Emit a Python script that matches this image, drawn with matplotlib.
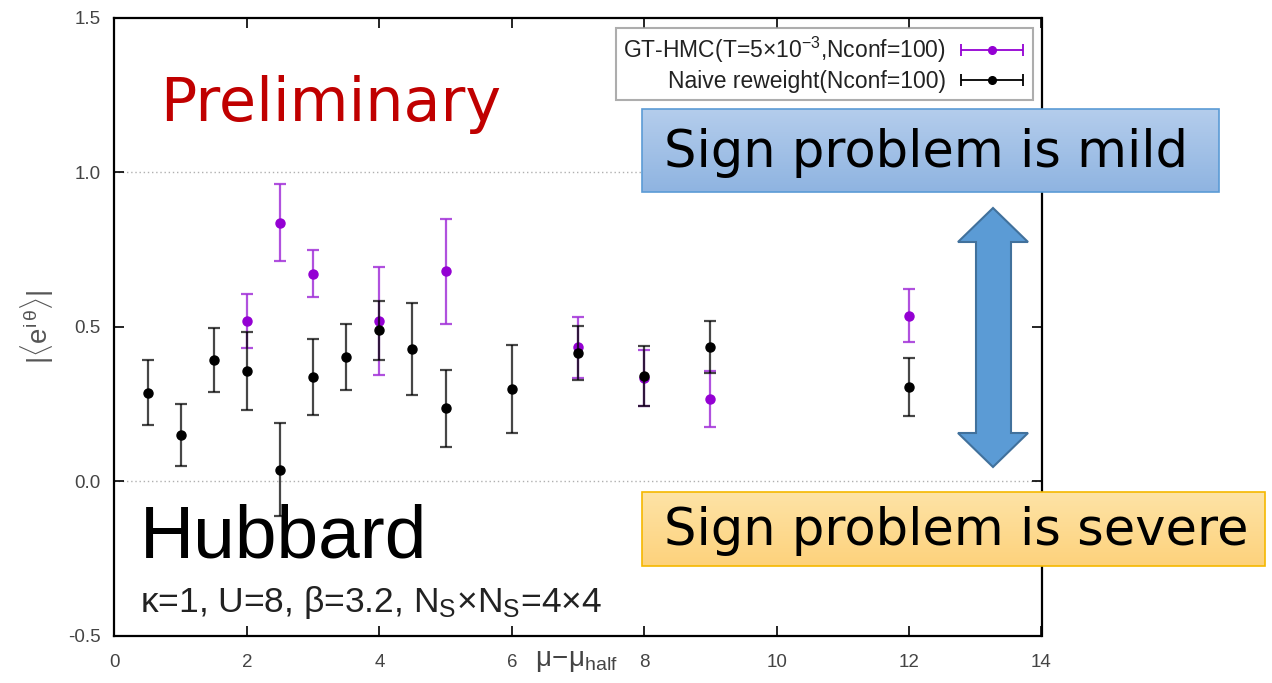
import numpy as np
import matplotlib
matplotlib.use("Agg")
import matplotlib.pyplot as plt
from matplotlib.patches import Rectangle, Polygon
from matplotlib.legend_handler import HandlerErrorbar

plt.rcParams['font.family'] = ['Liberation Sans', 'DejaVu Sans']
plt.rcParams['mathtext.fontset'] = 'custom'
plt.rcParams['mathtext.rm'] = 'Liberation Sans'
plt.rcParams['mathtext.it'] = 'Liberation Sans:italic'

# GT-HMC (T=5e-3, Nconf=100)
gt_mu = [2.0, 2.5, 3.0, 4.0, 5.0, 7.0, 8.0, 9.0, 12.0]
gt_val = [0.519, 0.837, 0.672, 0.519, 0.679, 0.433, 0.335, 0.267, 0.536]
gt_err = [0.087, 0.126, 0.075, 0.175, 0.170, 0.100, 0.090, 0.091, 0.085]

# naive reweighting (Nconf=100)
nv_mu = [0.5, 1.0, 1.5, 2.0, 2.5, 3.0, 3.5, 4.0, 4.5, 5.0, 6.0, 7.0, 8.0, 9.0, 12.0]
nv_val = [0.286, 0.150, 0.393, 0.357, 0.038, 0.338, 0.402, 0.488, 0.428, 0.236,
          0.298, 0.416, 0.341, 0.435, 0.305]
nv_err = [0.105, 0.100, 0.103, 0.127, 0.150, 0.124, 0.107, 0.095, 0.150, 0.125,
          0.143, 0.088, 0.097, 0.085, 0.094]

purple = '#9400d3'
W, H = 1272, 683

fig = plt.figure(figsize=(W / 100, H / 100), dpi=100)
ax = fig.add_axes([114.5 / W, 1 - 636 / H, 927 / W, 618.5 / H])

ax.errorbar(gt_mu, gt_val, yerr=gt_err, fmt='o', color=purple, ms=6.5,
            ecolor=(0.64, 0.2, 0.85, 0.85), elinewidth=1.6, capsize=4, capthick=1.6, zorder=3)
ax.errorbar(nv_mu, nv_val, yerr=nv_err, fmt='o', color='black', ms=6.5,
            ecolor=(0, 0, 0, 0.72), elinewidth=1.6, capsize=4, capthick=1.6, zorder=4)

# legend proxies: horizontal bars like gnuplot
h1 = ax.errorbar([np.nan], [np.nan], xerr=[1], fmt='o', color=purple, ms=5.5,
                 elinewidth=1.3, capsize=4, capthick=1.3)
h2 = ax.errorbar([np.nan], [np.nan], xerr=[1], fmt='o', color='black', ms=5.5,
                 elinewidth=1.3, capsize=4, capthick=1.3)
leg = ax.legend([h1, h2],
                ['GT-HMC(T=5×10$^{-3}$,Nconf=100)', 'Naive reweight(Nconf=100)'],
                loc='upper right', bbox_to_anchor=(1033 / W, 1 - 28 / H),
                bbox_transform=fig.transFigure, borderaxespad=0, markerfirst=False,
                fontsize=16.5, fancybox=False, handlelength=3.0, labelspacing=0.2,
                borderpad=0.3, handletextpad=0.5,
                handler_map={h1: HandlerErrorbar(xerr_size=1.35),
                             h2: HandlerErrorbar(xerr_size=1.35)})
leg.get_frame().set_edgecolor('#999999')
leg.get_frame().set_linewidth(1.5)
for t in leg.get_texts():
    t.set_color('#222222')

for yg in [0.0, 1.0]:
    ax.axhline(yg, color='#b0b0b0', lw=1.0, ls=(0, (1, 2)), zorder=1)

ax.set_xlim(0, 14)
ax.set_ylim(-0.5, 1.5)
ax.set_xticks(np.arange(0, 15, 2))
ax.set_yticks([-0.5, 0.0, 0.5, 1.0, 1.5])
ax.set_yticklabels(['-0.5', '0.0', '0.5', '1.0', '1.5'])
ax.tick_params(direction='in', top=True, right=True, length=7, width=1.2,
               labelsize=13.5, labelcolor='#444444')
ax.tick_params(axis='x', pad=13)
ax.tick_params(axis='y', pad=10)
for s in ax.spines.values():
    s.set_linewidth(1.6)

ax.set_xlabel(r'$\mathrm{\mu\!-\!\mu_{half}}$', fontsize=20, color='#444444')
ax.xaxis.set_label_coords(0.498, -0.02)
ax.set_ylabel(r'$|\langle \mathrm{e^{i\,\theta}}\rangle|$', fontsize=20, color='#555555')
ax.yaxis.set_label_coords(-0.063, 0.50)

# overlay in pixel coordinates for slide annotations
ov = fig.add_axes([0, 0, 1, 1], zorder=5)
ov.set_xlim(0, W)
ov.set_ylim(H, 0)
ov.axis('off')
ov.patch.set_alpha(0)

ov.text(160, 121, 'Preliminary', color='#c00000', fontsize=43.5,
        family='DejaVu Sans', va='baseline', ha='left')


def grad_box(x0, x1, y0, y1, c_top, c_bot, edge, label):
    c_top = np.array(matplotlib.colors.to_rgb(c_top))
    c_bot = np.array(matplotlib.colors.to_rgb(c_bot))
    t = np.linspace(0, 1, 64)[:, None, None]
    img = c_top * (1 - t) + c_bot * t
    ov.imshow(img, extent=(x0, x1, y1, y0), origin='upper', aspect='auto', zorder=2)
    ov.add_patch(Rectangle((x0, y0), x1 - x0, y1 - y0, fill=False, ec=edge, lw=1.2, zorder=3))
    ov.text(x0 + 22, (y0 + y1) / 2 + 2, label, fontsize=36.8, family='DejaVu Sans',
            va='center', ha='left', color='black', zorder=4)


grad_box(642, 1219, 109, 192, '#b4cdec', '#8fb4e1', '#5b9bd5', 'Sign problem is mild')
grad_box(642, 1265, 492, 566, '#fee3a6', '#fdd27c', '#f5b800', 'Sign problem is severe')

cx = 993
arrow = [(cx, 208), (cx + 35, 242), (cx + 18, 242), (cx + 18, 433), (cx + 35, 433),
         (cx, 467), (cx - 35, 433), (cx - 17, 433), (cx - 17, 242), (cx - 35, 242)]
ov.add_patch(Polygon(arrow, closed=True, fc='#5b9bd5', ec='#41719c', lw=1.5, zorder=3))

ov.text(140, 558, 'Hubbard', fontsize=54, va='baseline', ha='left', color='black')
ov.text(140, 612, r'κ=1, U=8, β=3.2, N$_{\rm S}$×N$_{\rm S}$=4×4', fontsize=25.5,
        va='baseline', ha='left', color='#222222')

fig.savefig('out.png', dpi=100)
